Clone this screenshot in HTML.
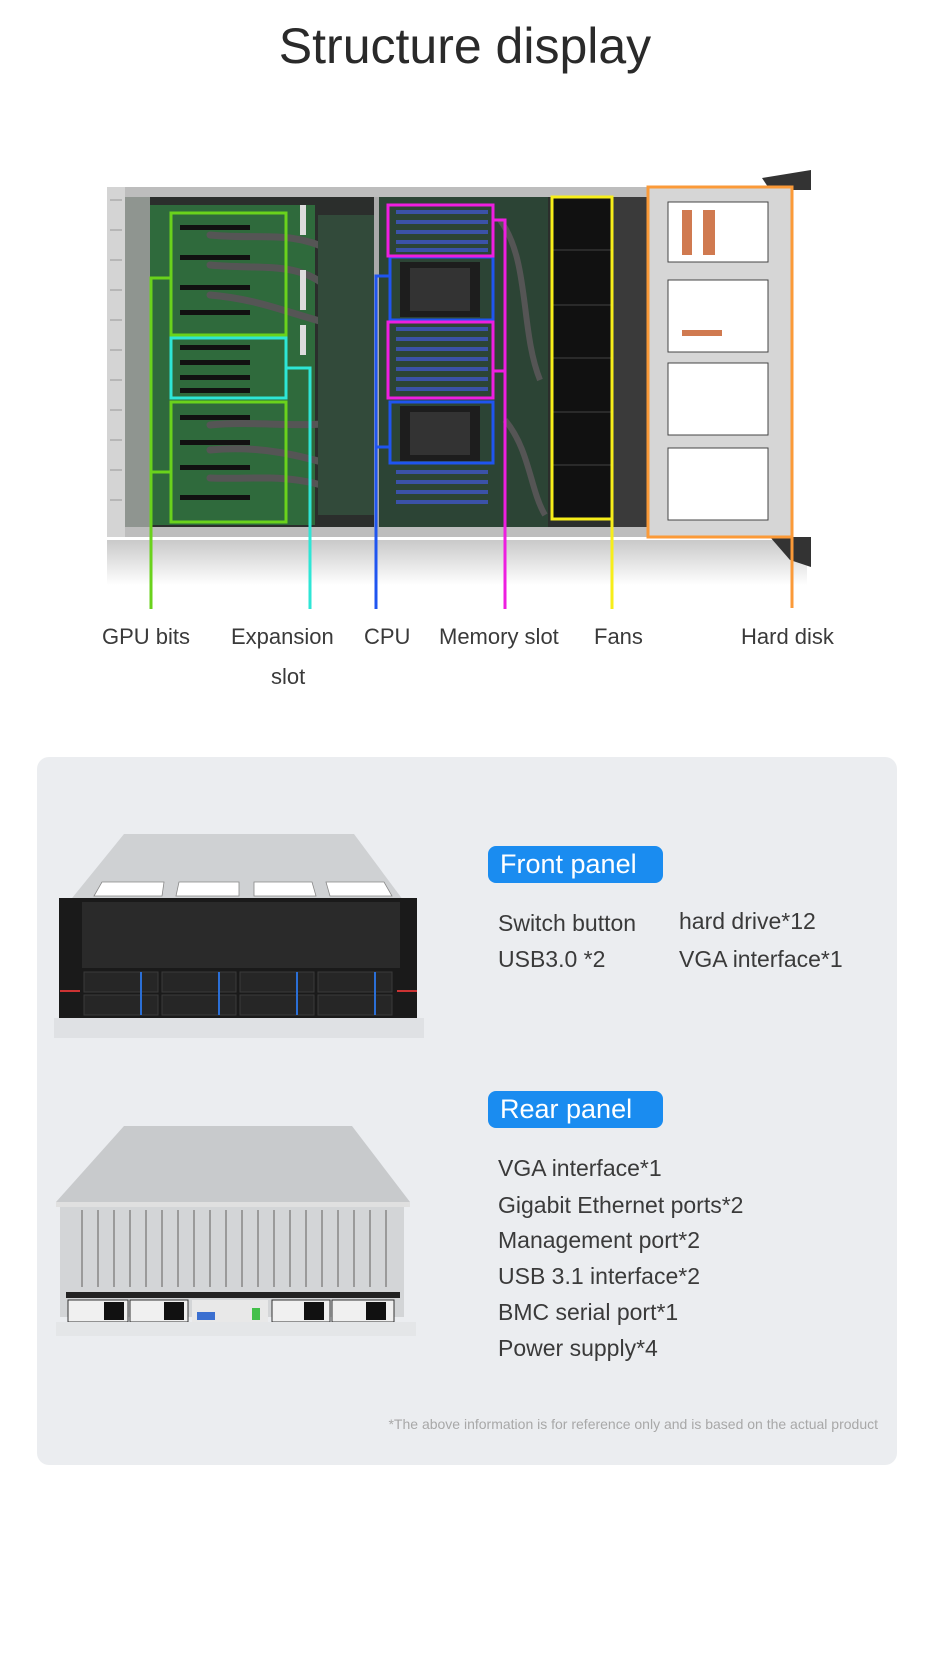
<!DOCTYPE html>
<html><head><meta charset="utf-8"><style>
body{margin:0;width:930px;height:1663px;background:#fff;position:relative;overflow:hidden;font-family:"Liberation Sans",sans-serif;color:#333}
.a{position:absolute;white-space:nowrap}
.lbl{font-size:22px;color:#3a3a3a;top:624px}
.box{position:absolute;left:37px;top:757px;width:860px;height:708px;background:#ebedf0;border-radius:12px}
.pill{position:absolute;left:488px;width:175px;height:37px;background:#1a8cf0;border-radius:8px;color:#fff;font-size:27px;line-height:37px;padding-left:12px;box-sizing:border-box}
.t{font-size:23px;color:#3a3a3a}
</style></head><body>
<div class="a" style="left:0;width:930px;text-align:center;top:17px;font-size:50px;color:#2a2a2a">Structure display</div>

<svg class="a" style="left:0;top:0" width="930" height="700" viewBox="0 0 930 700">
<defs>
<linearGradient id="refl" x1="0" y1="0" x2="0" y2="1"><stop offset="0" stop-color="#c9c9c9"/><stop offset="1" stop-color="#fff"/></linearGradient>
</defs>
<rect x="107" y="540" width="700" height="45" fill="url(#refl)"/>
<polygon points="762,178 811,170 811,190 770,190" fill="#333"/>
<polygon points="770,537 811,537 811,567 790,560" fill="#333"/>
<rect x="107" y="187" width="545" height="350" fill="#bdbdbd"/>
<rect x="125" y="197" width="520" height="330" fill="#2b2e2c"/>
<rect x="107" y="187" width="18" height="350" fill="#d4d4d4"/>
<g stroke="#999" stroke-width="1">
<line x1="110" y1="200" x2="122" y2="200"/><line x1="110" y1="230" x2="122" y2="230"/><line x1="110" y1="260" x2="122" y2="260"/><line x1="110" y1="290" x2="122" y2="290"/><line x1="110" y1="320" x2="122" y2="320"/><line x1="110" y1="350" x2="122" y2="350"/><line x1="110" y1="380" x2="122" y2="380"/><line x1="110" y1="410" x2="122" y2="410"/><line x1="110" y1="440" x2="122" y2="440"/><line x1="110" y1="470" x2="122" y2="470"/><line x1="110" y1="500" x2="122" y2="500"/>
</g>
<rect x="125" y="197" width="25" height="330" fill="#8f9590"/>
<rect x="150" y="205" width="165" height="320" fill="#2f6a3c"/>
<g fill="#111">
<rect x="180" y="225" width="70" height="5"/><rect x="180" y="255" width="70" height="5"/><rect x="180" y="285" width="70" height="5"/><rect x="180" y="310" width="70" height="5"/>
<rect x="180" y="345" width="70" height="5"/><rect x="180" y="360" width="70" height="5"/><rect x="180" y="375" width="70" height="5"/><rect x="180" y="388" width="70" height="5"/>
<rect x="180" y="415" width="70" height="5"/><rect x="180" y="440" width="70" height="5"/><rect x="180" y="465" width="70" height="5"/><rect x="180" y="495" width="70" height="5"/>
</g>
<g stroke="#555" stroke-width="7" fill="none" stroke-linecap="round">
<path d="M210,235 C260,240 290,230 330,250 S370,270 380,280"/>
<path d="M210,265 C260,270 300,260 330,290"/>
<path d="M210,295 C270,300 300,320 360,330"/>
<path d="M210,425 C260,420 300,430 360,420"/>
<path d="M210,450 C260,445 300,455 350,470"/>
<path d="M210,478 C260,480 300,470 360,500"/>
</g>
<rect x="318" y="215" width="60" height="300" fill="#324a3a"/>
<rect x="300" y="205" width="6" height="30" fill="#ddd"/><rect x="300" y="270" width="6" height="40" fill="#ddd"/><rect x="300" y="325" width="6" height="30" fill="#ddd"/>
<rect x="378" y="197" width="170" height="330" fill="#2c4435"/>
<rect x="374" y="197" width="5" height="330" fill="#aaa"/>
<g fill="#3b52a8">
<rect x="396" y="210" width="92" height="4"/><rect x="396" y="220" width="92" height="4"/><rect x="396" y="230" width="92" height="4"/><rect x="396" y="240" width="92" height="4"/><rect x="396" y="248" width="92" height="4"/>
<rect x="396" y="327" width="92" height="4"/><rect x="396" y="337" width="92" height="4"/><rect x="396" y="347" width="92" height="4"/><rect x="396" y="357" width="92" height="4"/><rect x="396" y="367" width="92" height="4"/><rect x="396" y="377" width="92" height="4"/><rect x="396" y="387" width="92" height="4"/>
<rect x="396" y="470" width="92" height="4"/><rect x="396" y="480" width="92" height="4"/><rect x="396" y="490" width="92" height="4"/><rect x="396" y="500" width="92" height="4"/>
</g>
<rect x="400" y="262" width="80" height="55" fill="#1d1d1d"/><rect x="410" y="268" width="60" height="43" fill="#333"/>
<rect x="400" y="406" width="80" height="55" fill="#1d1d1d"/><rect x="410" y="412" width="60" height="43" fill="#333"/>
<g stroke="#555" stroke-width="6" fill="none"><path d="M500,220 C530,260 520,330 540,380"/><path d="M505,420 C530,450 530,490 545,515"/></g>
<rect x="552" y="197" width="60" height="322" fill="#111"/>
<g stroke="#333" stroke-width="1.5"><line x1="552" y1="250" x2="612" y2="250"/><line x1="552" y1="305" x2="612" y2="305"/><line x1="552" y1="358" x2="612" y2="358"/><line x1="552" y1="412" x2="612" y2="412"/><line x1="552" y1="465" x2="612" y2="465"/></g>
<rect x="612" y="197" width="36" height="330" fill="#3a3a3a"/>
<rect x="648" y="187" width="144" height="350" fill="#d6d6d6"/>
<g fill="#fff" stroke="#444" stroke-width="1">
<rect x="668" y="202" width="100" height="60"/><rect x="668" y="280" width="100" height="72"/><rect x="668" y="363" width="100" height="72"/><rect x="668" y="448" width="100" height="72"/>
</g>
<g fill="#d07a50"><rect x="682" y="210" width="10" height="45"/><rect x="703" y="210" width="12" height="45"/><rect x="682" y="330" width="40" height="6"/></g>
<g fill="none" stroke-width="3">
<rect x="171" y="213" width="115" height="122" stroke="#6ad21c"/>
<rect x="171" y="402" width="115" height="120" stroke="#6ad21c"/>
<polyline points="171,278 151,278 151,472 171,472" stroke="#6ad21c"/>
<line x1="151" y1="472" x2="151" y2="609" stroke="#6ad21c"/>
<rect x="171" y="338" width="115" height="60" stroke="#2ee6d6"/>
<polyline points="286,368 310,368 310,609" stroke="#2ee6d6"/>
<rect x="390" y="257" width="103" height="63" stroke="#1f55f0"/>
<rect x="390" y="402" width="103" height="61" stroke="#1f55f0"/>
<polyline points="390,276 376,276 376,609" stroke="#1f55f0"/>
<line x1="376" y1="447" x2="390" y2="447" stroke="#1f55f0"/>
<rect x="388" y="205" width="105" height="51" stroke="#ee1ee0"/>
<rect x="388" y="322" width="105" height="76" stroke="#ee1ee0"/>
<polyline points="493,220 505,220 505,609" stroke="#ee1ee0"/>
<line x1="493" y1="371" x2="505" y2="371" stroke="#ee1ee0"/>
<rect x="552" y="197" width="60" height="322" stroke="#f7ee1a"/>
<line x1="612" y1="519" x2="612" y2="609" stroke="#f7ee1a"/>
<rect x="648" y="187" width="144" height="350" stroke="#fb9a38"/>
<line x1="792" y1="537" x2="792" y2="608" stroke="#fb9a38"/>
</g>
</svg>

<div class="a lbl" style="left:102px">GPU bits</div>
<div class="a lbl" style="left:231px">Expansion</div>
<div class="a lbl" style="left:271px;top:664px">slot</div>
<div class="a lbl" style="left:364px">CPU</div>
<div class="a lbl" style="left:439px">Memory slot</div>
<div class="a lbl" style="left:594px">Fans</div>
<div class="a lbl" style="left:741px">Hard disk</div>

<div class="box"></div>

<svg class="a" style="left:54px;top:830px" width="370" height="210" viewBox="0 0 370 210">
<polygon points="70,4 300,4 355,78 10,78" fill="#cfd1d3"/>
<g fill="#fff" stroke="#888" stroke-width="0.8"><polygon points="48,52 110,52 108,66 40,66"/><polygon points="125,52 185,52 185,66 122,66"/><polygon points="200,52 258,52 262,66 200,66"/><polygon points="272,52 330,52 338,66 276,66"/></g>
<rect x="5" y="68" width="358" height="120" fill="#1a1a1a"/>
<rect x="28" y="72" width="318" height="66" fill="#2a2a2a"/>
<g fill="#262626" stroke="#3a3a3a" stroke-width="1">
<rect x="30" y="142" width="74" height="20"/><rect x="108" y="142" width="74" height="20"/><rect x="186" y="142" width="74" height="20"/><rect x="264" y="142" width="74" height="20"/>
<rect x="30" y="165" width="74" height="20"/><rect x="108" y="165" width="74" height="20"/><rect x="186" y="165" width="74" height="20"/><rect x="264" y="165" width="74" height="20"/>
</g>
<g fill="#2b6fd6"><rect x="86" y="142" width="2" height="43"/><rect x="164" y="142" width="2" height="43"/><rect x="242" y="142" width="2" height="43"/><rect x="320" y="142" width="2" height="43"/></g>
<rect x="6" y="160" width="20" height="2" fill="#c33"/><rect x="343" y="160" width="20" height="2" fill="#c33"/>
<rect x="0" y="188" width="370" height="20" fill="#dfe1e4"/>
</svg>

<svg class="a" style="left:52px;top:1122px" width="374" height="216" viewBox="0 0 374 216">
<polygon points="72,4 300,4 358,80 4,80" fill="#c8cacc"/>
<rect x="4" y="80" width="354" height="5" fill="#e0e0e0"/>
<rect x="8" y="85" width="344" height="110" fill="#d3d5d7"/>
<g stroke="#9a9a9a" stroke-width="2">
<line x1="30" y1="88" x2="30" y2="165"/><line x1="46" y1="88" x2="46" y2="165"/><line x1="62" y1="88" x2="62" y2="165"/><line x1="78" y1="88" x2="78" y2="165"/><line x1="94" y1="88" x2="94" y2="165"/><line x1="110" y1="88" x2="110" y2="165"/><line x1="126" y1="88" x2="126" y2="165"/><line x1="142" y1="88" x2="142" y2="165"/><line x1="158" y1="88" x2="158" y2="165"/><line x1="174" y1="88" x2="174" y2="165"/><line x1="190" y1="88" x2="190" y2="165"/><line x1="206" y1="88" x2="206" y2="165"/><line x1="222" y1="88" x2="222" y2="165"/><line x1="238" y1="88" x2="238" y2="165"/><line x1="254" y1="88" x2="254" y2="165"/><line x1="270" y1="88" x2="270" y2="165"/><line x1="286" y1="88" x2="286" y2="165"/><line x1="302" y1="88" x2="302" y2="165"/><line x1="318" y1="88" x2="318" y2="165"/><line x1="334" y1="88" x2="334" y2="165"/>
</g>
<rect x="14" y="170" width="334" height="6" fill="#222"/>
<g fill="#f0f0f0" stroke="#333" stroke-width="1"><rect x="16" y="178" width="60" height="22"/><rect x="78" y="178" width="58" height="22"/><rect x="220" y="178" width="58" height="22"/><rect x="280" y="178" width="62" height="22"/></g>
<g fill="#111"><rect x="52" y="180" width="20" height="18"/><rect x="112" y="180" width="20" height="18"/><rect x="252" y="180" width="20" height="18"/><rect x="314" y="180" width="20" height="18"/></g>
<rect x="140" y="178" width="76" height="22" fill="#e8e8e8"/>
<rect x="145" y="190" width="18" height="8" fill="#3b6fd0"/><rect x="200" y="186" width="8" height="12" fill="#43c04a"/>
<rect x="4" y="200" width="360" height="14" fill="#e4e6e8"/>
</svg>

<div class="pill" style="top:846px">Front panel</div>
<div class="a t" style="left:498px;top:910px">Switch button</div>
<div class="a t" style="left:679px;top:908px">hard drive*12</div>
<div class="a t" style="left:498px;top:946px">USB3.0 *2</div>
<div class="a t" style="left:679px;top:946px">VGA interface*1</div>

<div class="pill" style="top:1091px">Rear panel</div>
<div class="a t" style="left:498px;top:1155px">VGA interface*1</div>
<div class="a t" style="left:498px;top:1192px">Gigabit Ethernet ports*2</div>
<div class="a t" style="left:498px;top:1227px">Management port*2</div>
<div class="a t" style="left:498px;top:1263px">USB 3.1 interface*2</div>
<div class="a t" style="left:498px;top:1299px">BMC serial port*1</div>
<div class="a t" style="left:498px;top:1335px">Power supply*4</div>

<div class="a" style="right:52px;top:1416px;font-size:14px;color:#a8a8a8">*The above information is for reference only and is based on the actual product</div>
</body></html>
